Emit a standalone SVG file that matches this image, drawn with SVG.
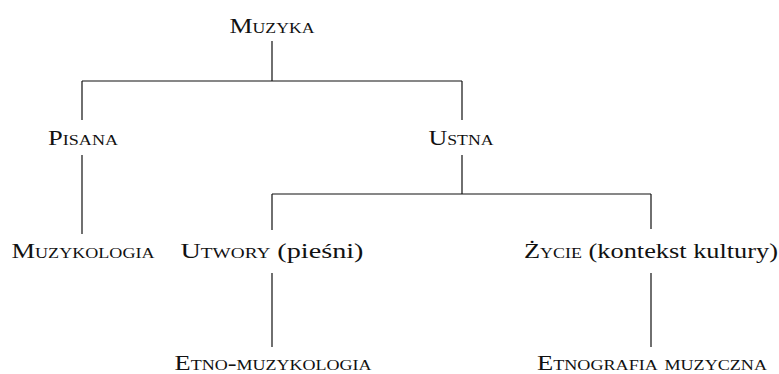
<svg xmlns="http://www.w3.org/2000/svg" width="779" height="374" viewBox="0 0 779 374">
<style>
.t{font-family:"Liberation Serif","DejaVu Serif",serif;font-size:22px;fill:#111;text-anchor:middle}
.sc{font-variant:small-caps}
.c{stroke:#111;stroke-width:1.2;fill:none}
</style>
<rect width="779" height="374" fill="#fff"/>
<g id="connectors" class="c">
<path d="M272 41V81M82 81H462M82 81V120M462 81V120"/>
<path d="M82 155V234"/>
<path d="M462 155V194M272 194H651M272 194V230M651 194V229"/>
<path d="M272 273V347M651 273V347"/>
</g>
<g id="n-muzyka"><text class="t sc" x="272" y="33" textLength="85" lengthAdjust="spacingAndGlyphs">Muzyka</text></g>
<g id="n-pisana"><text class="t sc" x="83" y="145" textLength="70" lengthAdjust="spacingAndGlyphs">Pisana</text></g>
<g id="n-ustna"><text class="t sc" x="461" y="145" textLength="65" lengthAdjust="spacingAndGlyphs">Ustna</text></g>
<g id="n-muzykologia"><text class="t sc" x="83" y="258" textLength="143" lengthAdjust="spacingAndGlyphs">Muzykologia</text></g>
<g id="n-utwory"><text class="t" x="272" y="258" textLength="183" lengthAdjust="spacingAndGlyphs"><tspan class="sc">Utwory</tspan> (pieśni)</text></g>
<g id="n-zycie"><text class="t" x="651" y="258" textLength="254" lengthAdjust="spacingAndGlyphs"><tspan class="sc">Życie</tspan> (kontekst kultury)</text></g>
<g id="n-etnomuzykologia"><text class="t sc" x="273" y="370" textLength="197" lengthAdjust="spacingAndGlyphs">Etno-muzykologia</text></g>
<g id="n-etnografia"><text class="t sc" x="652" y="370" textLength="230" lengthAdjust="spacingAndGlyphs">Etnografia muzyczna</text></g>
</svg>
